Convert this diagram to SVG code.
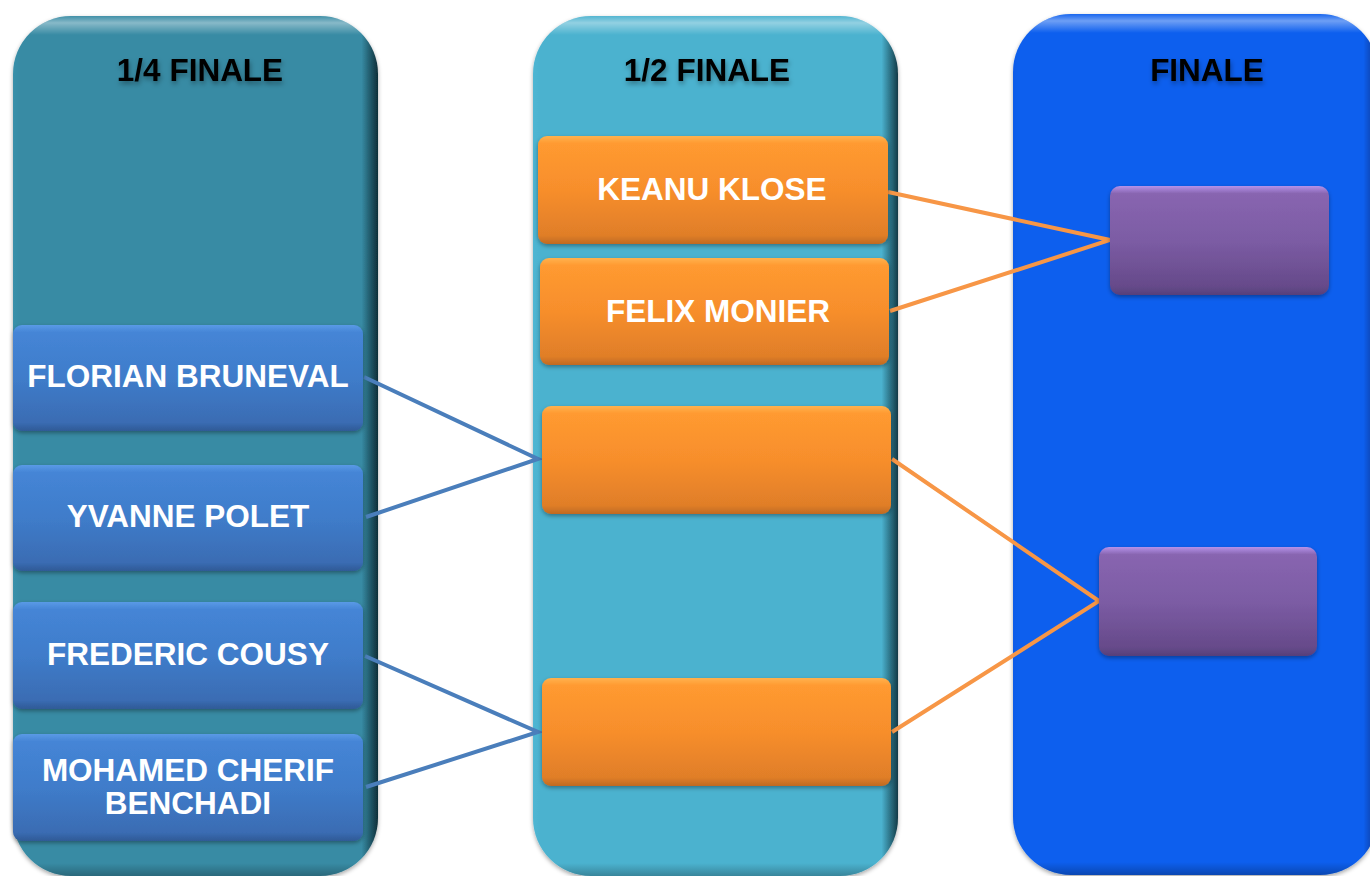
<svg xmlns="http://www.w3.org/2000/svg" width="1370" height="876" viewBox="0 0 1370 876">
<defs>
  <linearGradient id="c1h" x1="0" y1="0" x2="1" y2="0">
    <stop offset="0" stop-color="#3a90aa"/>
    <stop offset="0.02" stop-color="#378ba4"/>
    <stop offset="0.955" stop-color="#378ba4"/>
    <stop offset="1" stop-color="#0e2e38"/>
  </linearGradient>
  <linearGradient id="c2h" x1="0" y1="0" x2="1" y2="0">
    <stop offset="0" stop-color="#4fb6d3"/>
    <stop offset="0.02" stop-color="#4bb2cf"/>
    <stop offset="0.955" stop-color="#4bb2cf"/>
    <stop offset="1" stop-color="#123a46"/>
  </linearGradient>
  <linearGradient id="c3h" x1="0" y1="0" x2="1" y2="0">
    <stop offset="0" stop-color="#0c5ce8"/>
    <stop offset="0.02" stop-color="#0b5fee"/>
    <stop offset="0.96" stop-color="#0b5fee"/>
    <stop offset="1" stop-color="#07348a"/>
  </linearGradient>
  <linearGradient id="topHi" x1="0" y1="0" x2="0" y2="1">
    <stop offset="0" stop-color="#ffffff" stop-opacity="0.05"/>
    <stop offset="0.008" stop-color="#ffffff" stop-opacity="0.4"/>
    <stop offset="0.022" stop-color="#ffffff" stop-opacity="0"/>
    <stop offset="0.985" stop-color="#000000" stop-opacity="0"/>
    <stop offset="1" stop-color="#000000" stop-opacity="0.25"/>
  </linearGradient>
  <linearGradient id="gBlue" x1="0" y1="0" x2="0" y2="1">
    <stop offset="0" stop-color="#5a9ae6"/>
    <stop offset="0.07" stop-color="#4585d6"/>
    <stop offset="0.5" stop-color="#3f7cca"/>
    <stop offset="0.92" stop-color="#3a6cb3"/>
    <stop offset="1" stop-color="#2f5a96"/>
  </linearGradient>
  <linearGradient id="gOrange" x1="0" y1="0" x2="0" y2="1">
    <stop offset="0" stop-color="#ffb24e"/>
    <stop offset="0.07" stop-color="#ff9a30"/>
    <stop offset="0.5" stop-color="#f78e2c"/>
    <stop offset="0.92" stop-color="#e07e28"/>
    <stop offset="1" stop-color="#bf6a22"/>
  </linearGradient>
  <linearGradient id="gPurple" x1="0" y1="0" x2="0" y2="1">
    <stop offset="0" stop-color="#b592ea"/>
    <stop offset="0.07" stop-color="#8865b0"/>
    <stop offset="0.5" stop-color="#7c5ca4"/>
    <stop offset="0.92" stop-color="#664a8a"/>
    <stop offset="1" stop-color="#56407a"/>
  </linearGradient>
  <filter id="sh" x="-10%" y="-10%" width="120%" height="130%">
    <feDropShadow dx="0" dy="2" stdDeviation="2" flood-color="#000" flood-opacity="0.35"/>
  </filter>
  <filter id="tsh" x="-10%" y="-30%" width="120%" height="160%">
    <feDropShadow dx="1" dy="3" stdDeviation="2.5" flood-color="#000" flood-opacity="0.35"/>
  </filter>
</defs>
<style>
  .title { font-family: "Liberation Sans", Arial, sans-serif; font-weight: bold; font-size: 31.5px; fill: #000; text-anchor: middle; }
  .name { font-family: "Liberation Sans", Arial, sans-serif; font-weight: bold; font-size: 31.5px; fill: #fff; text-anchor: middle; }
  .blue { fill: url(#gBlue); }
  .orange { fill: url(#gOrange); }
  .purple { fill: url(#gPurple); }
  .cb { stroke: #4a7ebb; stroke-width: 4; fill: none; }
  .co { stroke: #f79646; stroke-width: 4; fill: none; }
</style>
<rect width="1370" height="876" fill="#ffffff"/>

<g id="col-quarter">
  <rect x="13" y="16" width="365" height="860" rx="58" fill="url(#c1h)" filter="url(#sh)"/>
  <rect x="13" y="16" width="365" height="860" rx="58" fill="url(#topHi)"/>
  <text class="title" x="200" y="81" filter="url(#tsh)">1/4 FINALE</text>
</g>
<g id="col-semi">
  <rect x="533" y="16" width="365" height="860" rx="58" fill="url(#c2h)" filter="url(#sh)"/>
  <rect x="533" y="16" width="365" height="860" rx="58" fill="url(#topHi)"/>
  <text class="title" x="707" y="81" filter="url(#tsh)">1/2 FINALE</text>
</g>
<g id="col-final">
  <rect x="1013" y="14" width="365" height="861" rx="58" fill="url(#c3h)" filter="url(#sh)"/>
  <rect x="1013" y="14" width="365" height="861" rx="58" fill="url(#topHi)"/>
  <text class="title" x="1207" y="81" filter="url(#tsh)">FINALE</text>
</g>

<g id="connectors">
  <polyline class="cb" points="364,377 538,459 366,517"/>
  <polyline class="cb" points="365,656 538,732 366,787"/>
  <polyline class="co" points="888,192 1110,240 890,311"/>
  <polyline class="co" points="892,459 1099,601 892,732"/>
</g>

<g id="q1">
  <rect class="blue" x="13" y="325" width="350" height="106" rx="9" filter="url(#sh)"/>
  <text class="name" x="188" y="387">FLORIAN BRUNEVAL</text>
</g>
<g id="q2">
  <rect class="blue" x="13" y="465" width="350" height="106" rx="9" filter="url(#sh)"/>
  <text class="name" x="188" y="527">YVANNE POLET</text>
</g>
<g id="q3">
  <rect class="blue" x="13" y="602" width="350" height="107" rx="9" filter="url(#sh)"/>
  <text class="name" x="188" y="665">FREDERIC COUSY</text>
</g>
<g id="q4">
  <rect class="blue" x="13" y="734" width="350" height="107" rx="9" filter="url(#sh)"/>
  <text class="name" x="188" y="781">MOHAMED CHERIF</text>
  <text class="name" x="188" y="814">BENCHADI</text>
</g>

<g id="s1">
  <rect class="orange" x="538" y="136" width="350" height="108" rx="9" filter="url(#sh)"/>
  <text class="name" x="712" y="200">KEANU KLOSE</text>
</g>
<g id="s2">
  <rect class="orange" x="540" y="258" width="349" height="107" rx="9" filter="url(#sh)"/>
  <text class="name" x="718" y="322">FELIX MONIER</text>
</g>
<g id="s3">
  <rect class="orange" x="542" y="406" width="349" height="108" rx="9" filter="url(#sh)"/>
</g>
<g id="s4">
  <rect class="orange" x="542" y="678" width="349" height="108" rx="9" filter="url(#sh)"/>
</g>

<g id="f1">
  <rect class="purple" x="1110" y="186" width="219" height="109" rx="10" filter="url(#sh)"/>
</g>
<g id="f2">
  <rect class="purple" x="1099" y="547" width="218" height="109" rx="10" filter="url(#sh)"/>
</g>
</svg>
